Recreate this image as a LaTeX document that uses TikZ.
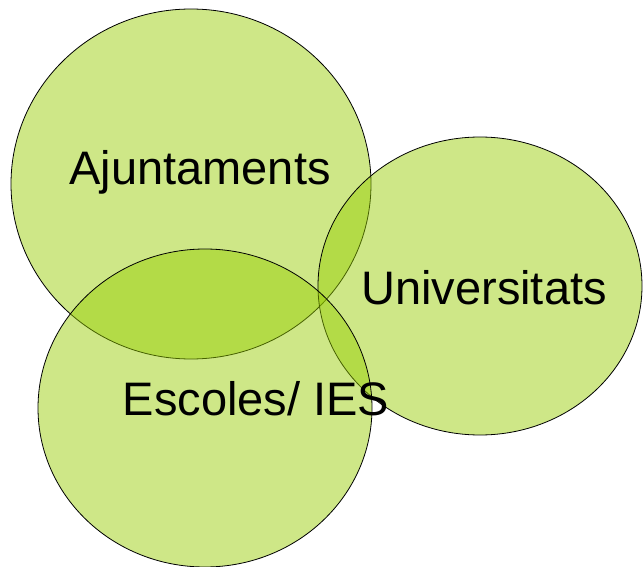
\documentclass[tikz,border=0pt]{standalone}
\usepackage{fontspec}
\setmainfont{Liberation Sans}
\definecolor{venngreen}{RGB}{150,205,0}
\begin{document}
\begin{tikzpicture}[x=1pt,y=-1pt,
  venn/.style={fill=venngreen,fill opacity=0.47,draw=black,line width=0.8pt},
  lbl/.style={anchor=base,inner sep=0pt,font=\fontsize{47}{56}\selectfont,text=black}]
\useasboundingbox (0,0) rectangle (643,567);
\path[venn] (191,184) ellipse [x radius=180,y radius=175];
\path[venn] (480,286) ellipse [x radius=162,y radius=149];
\path[venn] (205,408) ellipse [x radius=167,y radius=159];
\node[lbl] (aj) at (200,185) {Ajuntaments};
\node[lbl] (un) at (484,304) {Universitats};
\node[lbl] (es) at (256,415) {Escoles/ IES};
\end{tikzpicture}
\end{document}
